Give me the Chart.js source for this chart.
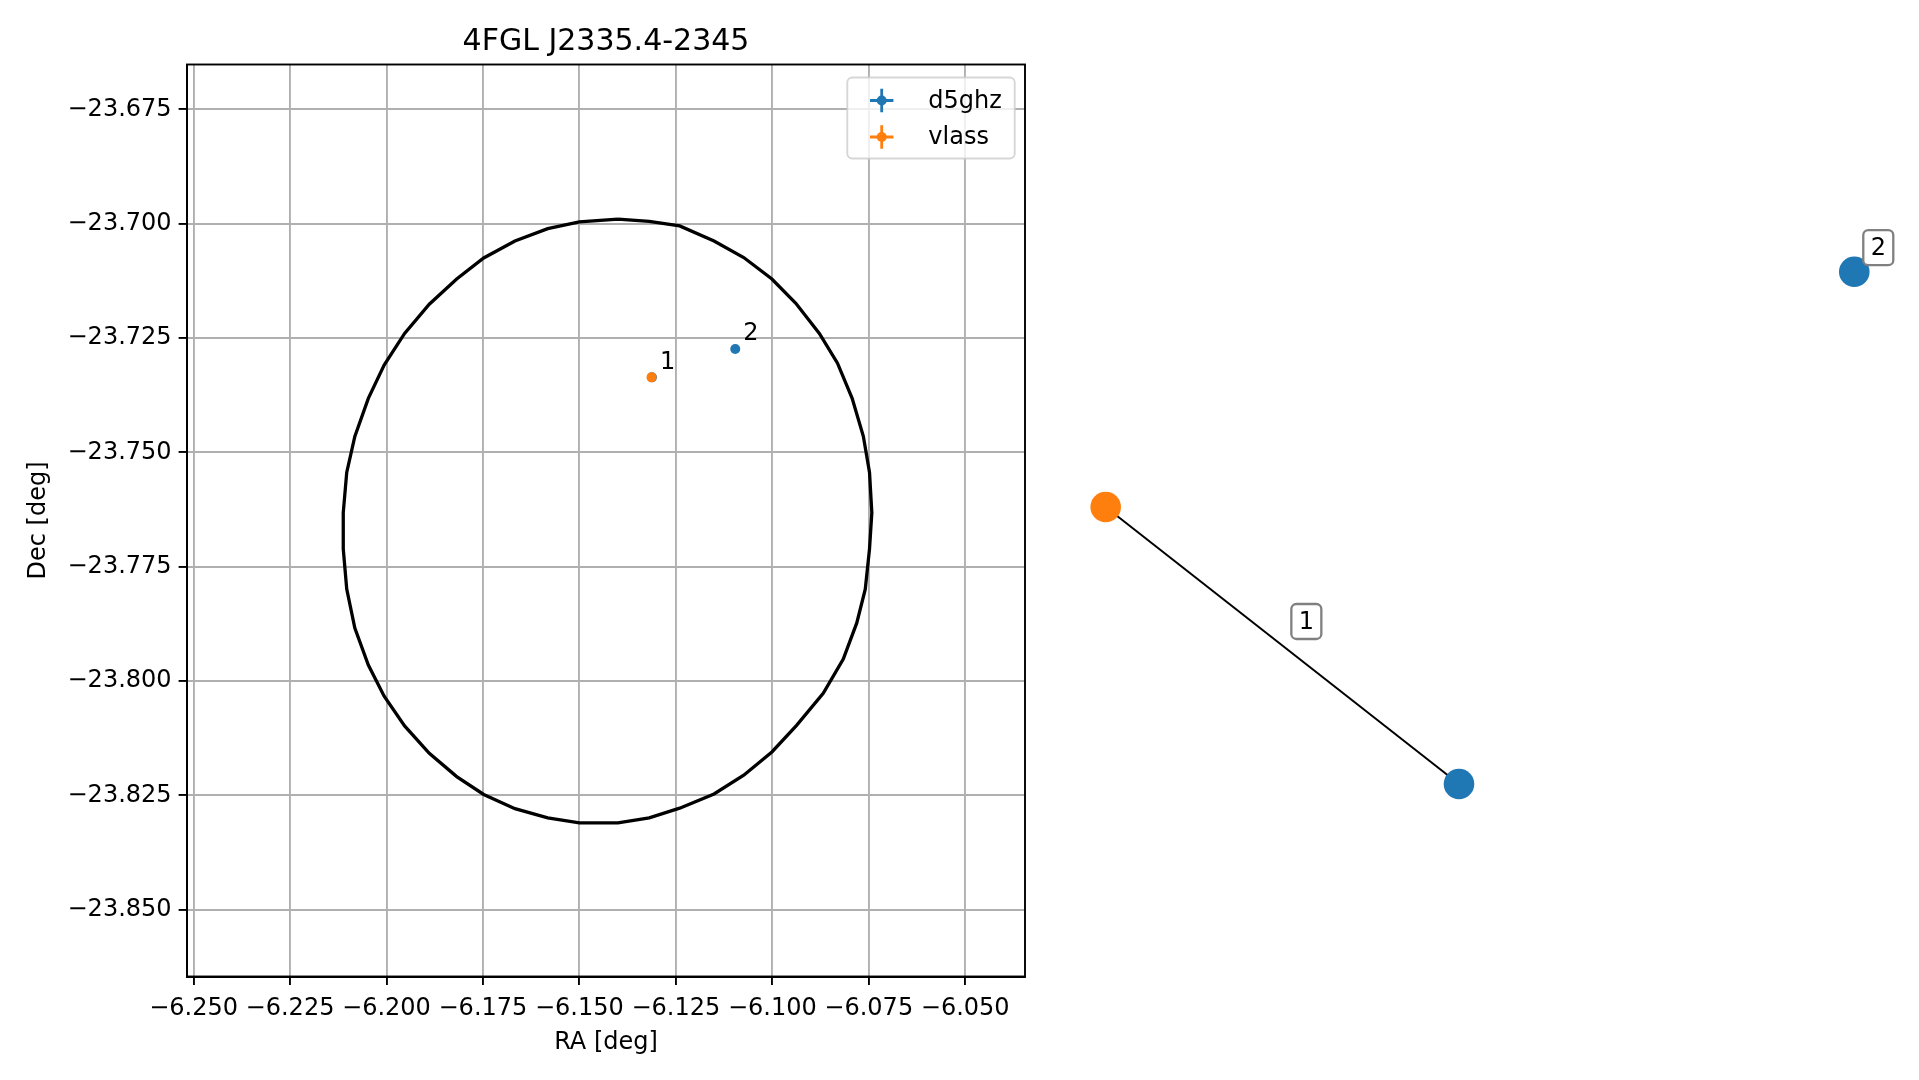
<!DOCTYPE html>
<html><head><meta charset="utf-8">
<script src="https://cdn.jsdelivr.net/npm/chart.js@4.4.1/dist/chart.umd.min.js"></script>
<style>
html,body{margin:0;padding:0;background:#fff;width:1919px;height:1080px;overflow:hidden;}
#c1{position:absolute;left:0;top:0;}
#c2{position:absolute;left:1040px;top:0;}
</style></head><body>
<canvas id="c1" width="1040" height="1080"></canvas>
<canvas id="c2" width="879" height="1080"></canvas>
<script>
// ---------- data ----------
const titleText = '4FGL J2335.4-2345';
const xLabel = 'RA [deg]';
const yLabel = 'Dec [deg]';
const xTicks = [-6.250, -6.225, -6.200, -6.175, -6.150, -6.125, -6.100, -6.075, -6.050];
const yTicks = [-23.675, -23.700, -23.725, -23.750, -23.775, -23.800, -23.825, -23.850];
const xRange = [-6.2517, -6.0345];
const yRange = [-23.8646, -23.6652];

const d5ghzRA  = [-6.1312, -6.1096];
const d5ghzDec = [-23.7336, -23.7274];
const vlassRA  = [-6.1313];
const vlassDec = [-23.7336];

const legendOrder = ['d5ghz', 'vlass'];
const groupLabels = ['1', '2'];
const groupAnchorD5 = [0, 1];   // index into d5ghz arrays

const ellipseRA = [-6.1400,-6.1319,-6.1240,-6.1151,-6.1074,-6.1001,-6.0939,-6.0878,-6.0831,-6.0793,-6.0764,-6.0748,-6.0742,-6.0748,-6.0759,-6.0781,-6.0816,-6.0868,-6.0937,-6.1001,-6.1074,-6.1151,-6.1240,-6.1319,-6.1400,
  -6.1500,-6.1582,-6.1667,-6.1748,-6.1818,-6.1889,-6.1953,-6.2006,-6.2047,-6.2082,-6.2103,-6.2112,-6.2112,-6.2103,-6.2082,-6.2047,-6.2006,-6.1953,-6.1889,-6.1818,-6.1748,-6.1667,-6.1582,-6.1500,-6.1400];
const ellipseDec = [-23.6990,-23.6995,-23.7005,-23.7038,-23.7074,-23.7121,-23.7174,-23.7240,-23.7305,-23.7382,-23.7465,-23.7544,-23.7632,-23.7711,-23.7799,-23.7873,-23.7952,-23.8027,-23.8097,-23.8155,-23.8206,-23.8247,-23.8278,-23.8299,-23.8310,
  -23.8310,-23.8299,-23.8279,-23.8248,-23.8209,-23.8158,-23.8098,-23.8033,-23.7965,-23.7884,-23.7799,-23.7711,-23.7632,-23.7544,-23.7465,-23.7382,-23.7309,-23.7240,-23.7176,-23.7121,-23.7075,-23.7038,-23.7011,-23.6996,-23.6990];

// graph panel (layout coordinates)
const nodeCatalog = ['vlass', 'd5ghz', 'd5ghz'];
const nodeX = [-1.0, -0.0561, 1.0];
const nodeY = [0.0814, -1.0, 1.0];
const edgeFrom = [0];
const edgeTo = [1];
const graphGroups = [[0, 1], [2]];
const graphGroupLabels = ['1', '2'];
const graphXRange = [-1.1755, 1.1729];
const graphYRange = [-2.1556, 2.0607];

// ---------- styles ----------
const catalogColor = {d5ghz: '#1f77b4', vlass: '#ff7f0e'};
Chart.defaults.font.family = 'DejaVu Sans';
Chart.defaults.color = '#000';

const pts = (xs, ys) => xs.map((x, i) => ({x: x, y: ys[i]}));
const fmt3 = v => (v < 0 ? '\u2212' : '') + Math.abs(v).toFixed(3);

const boxPlugin = {
  id: 'boxPlugin',
  afterDatasetsDraw(chart) {
    const ctx = chart.ctx, a = chart.chartArea;
    ctx.save();
    // point labels
    ctx.font = '24px "DejaVu Sans"';
    ctx.fillStyle = '#000';
    ctx.textAlign = 'left';
    ctx.textBaseline = 'alphabetic';
    groupLabels.forEach((t, i) => {
      const k = groupAnchorD5[i];
      const px = chart.scales.x.getPixelForValue(d5ghzRA[k]);
      const py = chart.scales.y.getPixelForValue(d5ghzDec[k]);
      ctx.fillText(t, px + 8, py - 8.5);
    });
    // spines
    ctx.strokeStyle = '#000';
    ctx.lineWidth = 1.9;
    ctx.strokeRect(a.left, a.top, a.right - a.left, a.bottom - a.top);
    // legend
    const bx = a.right - 10.3 - 167.4, by = a.top + 13, bw = 167.4, bh = 81;
    ctx.beginPath();
    ctx.roundRect(bx, by, bw, bh, 5);
    ctx.fillStyle = 'rgba(255,255,255,0.8)';
    ctx.fill();
    ctx.strokeStyle = 'rgba(204,204,204,0.8)';
    ctx.lineWidth = 1.9;
    ctx.stroke();
    legendOrder.forEach((name, i) => {
      const d = chart.data.datasets.find(ds => ds.label === name);
      const cy = by + 23 + i * 36.5;
      const cx = bx + 34.4;
      ctx.strokeStyle = d.backgroundColor;
      ctx.lineWidth = 2.8;
      ctx.beginPath();
      ctx.moveTo(cx - 11.7, cy); ctx.lineTo(cx + 11.7, cy);
      ctx.moveTo(cx, cy - 11.7); ctx.lineTo(cx, cy + 11.7);
      ctx.stroke();
      ctx.fillStyle = d.backgroundColor;
      ctx.beginPath(); ctx.arc(cx, cy, 5, 0, Math.PI * 2); ctx.fill();
      ctx.fillStyle = '#000';
      ctx.font = '24px "DejaVu Sans"';
      ctx.textBaseline = 'middle';
      ctx.textAlign = 'left';
      ctx.fillText(d.label, bx + 81, cy + 1);
    });
    ctx.restore();
  }
};

new Chart(document.getElementById('c1'), {
  type: 'scatter',
  data: {
    datasets: [
      {label: 'vlass', data: pts(vlassRA, vlassDec), backgroundColor: catalogColor.vlass,
       pointRadius: 5, pointBorderWidth: 0, order: 0},
      {label: 'd5ghz', data: pts(d5ghzRA, d5ghzDec), backgroundColor: catalogColor.d5ghz,
       pointRadius: 5, pointBorderWidth: 0, order: 1},
      {label: 'error circle', data: pts(ellipseRA, ellipseDec), showLine: true, borderColor: '#000',
       borderWidth: 3.3, pointRadius: 0, fill: false, order: 2}
    ]
  },
  options: {
    responsive: false, animation: false, events: [],
    layout: {padding: {left: 0, right: 15, top: 0, bottom: 0}, autoPadding: false},
    plugins: {
      legend: {display: false}, tooltip: {enabled: false},
      title: {display: true, text: titleText, fullSize: false, color: '#000',
              font: {size: 30, weight: 'normal'}, padding: {top: 24.5, bottom: 4}}
    },
    scales: {
      x: {type: 'linear', min: xRange[0], max: xRange[1],
          afterFit: s => { s.height = 103.5; },
          afterBuildTicks: s => { s.ticks = xTicks.map(v => ({value: v})); },
          ticks: {font: {size: 24}, color: '#000', padding: 9, maxRotation: 0, minRotation: 0, autoSkip: false, callback: fmt3},
          grid: {color: '#b0b0b0', lineWidth: 1.9, tickLength: 8.4, tickColor: '#000', tickWidth: 1.9, drawTicks: true},
          border: {display: true, color: '#000', width: 1.9},
          title: {display: true, text: xLabel, font: {size: 24}, color: '#000', padding: {top: 0, bottom: 23}}},
      y: {type: 'linear', min: yRange[0], max: yRange[1],
          afterFit: s => { s.width = 187; },
          afterBuildTicks: s => { s.ticks = yTicks.map(v => ({value: v})); },
          ticks: {font: {size: 24}, color: '#000', padding: 7, autoSkip: false, callback: fmt3},
          grid: {color: '#b0b0b0', lineWidth: 1.9, tickLength: 8.4, tickColor: '#000', tickWidth: 1.9, drawTicks: true},
          border: {display: true, color: '#000', width: 1.9},
          title: {display: true, text: yLabel, font: {size: 24}, color: '#000', padding: {top: 24.5, bottom: 0}}}
    }
  },
  plugins: [boxPlugin]
});

// ---------- graph panel ----------
const graphLabelPlugin = {
  id: 'graphLabels',
  afterDatasetsDraw(chart) {
    const ctx = chart.ctx, sx = chart.scales.x, sy = chart.scales.y;
    ctx.save();
    ctx.font = '24px "DejaVu Sans"';
    graphGroups.forEach((g, i) => {
      let mx = 0, my = 0;
      g.forEach(n => { mx += nodeX[n]; my += nodeY[n]; });
      mx /= g.length; my /= g.length;
      const cx = sx.getPixelForValue(mx) + 24, cy = sy.getPixelForValue(my) - 24;
      const w = 30, h = 35;
      ctx.beginPath();
      ctx.roundRect(cx - w / 2, cy - h / 2, w, h, 5);
      ctx.fillStyle = '#fff'; ctx.fill();
      ctx.strokeStyle = '#808080'; ctx.lineWidth = 2.3; ctx.stroke();
      ctx.fillStyle = '#000'; ctx.textAlign = 'center'; ctx.textBaseline = 'middle';
      ctx.fillText(graphGroupLabels[i], cx, cy + 1);
    });
    ctx.restore();
  }
};

const edgeDatasets = edgeFrom.map((f, i) => ({
  label: 'edge', data: [{x: nodeX[f], y: nodeY[f]}, {x: nodeX[edgeTo[i]], y: nodeY[edgeTo[i]]}],
  showLine: true, borderColor: '#000', borderWidth: 2, pointRadius: 0, order: 1
}));

new Chart(document.getElementById('c2'), {
  type: 'scatter',
  data: {
    datasets: [
      {label: 'nodes', data: pts(nodeX, nodeY), pointRadius: 15.3, pointBorderWidth: 0,
       backgroundColor: nodeCatalog.map(c => catalogColor[c]), order: 0},
      ...edgeDatasets
    ]
  },
  options: {
    responsive: false, animation: false, events: [],
    layout: {padding: 0, autoPadding: false},
    plugins: {legend: {display: false}, tooltip: {enabled: false}},
    scales: {
      x: {type: 'linear', display: false, min: graphXRange[0], max: graphXRange[1]},
      y: {type: 'linear', display: false, min: graphYRange[0], max: graphYRange[1]}
    }
  },
  plugins: [graphLabelPlugin]
});
</script></body></html>
